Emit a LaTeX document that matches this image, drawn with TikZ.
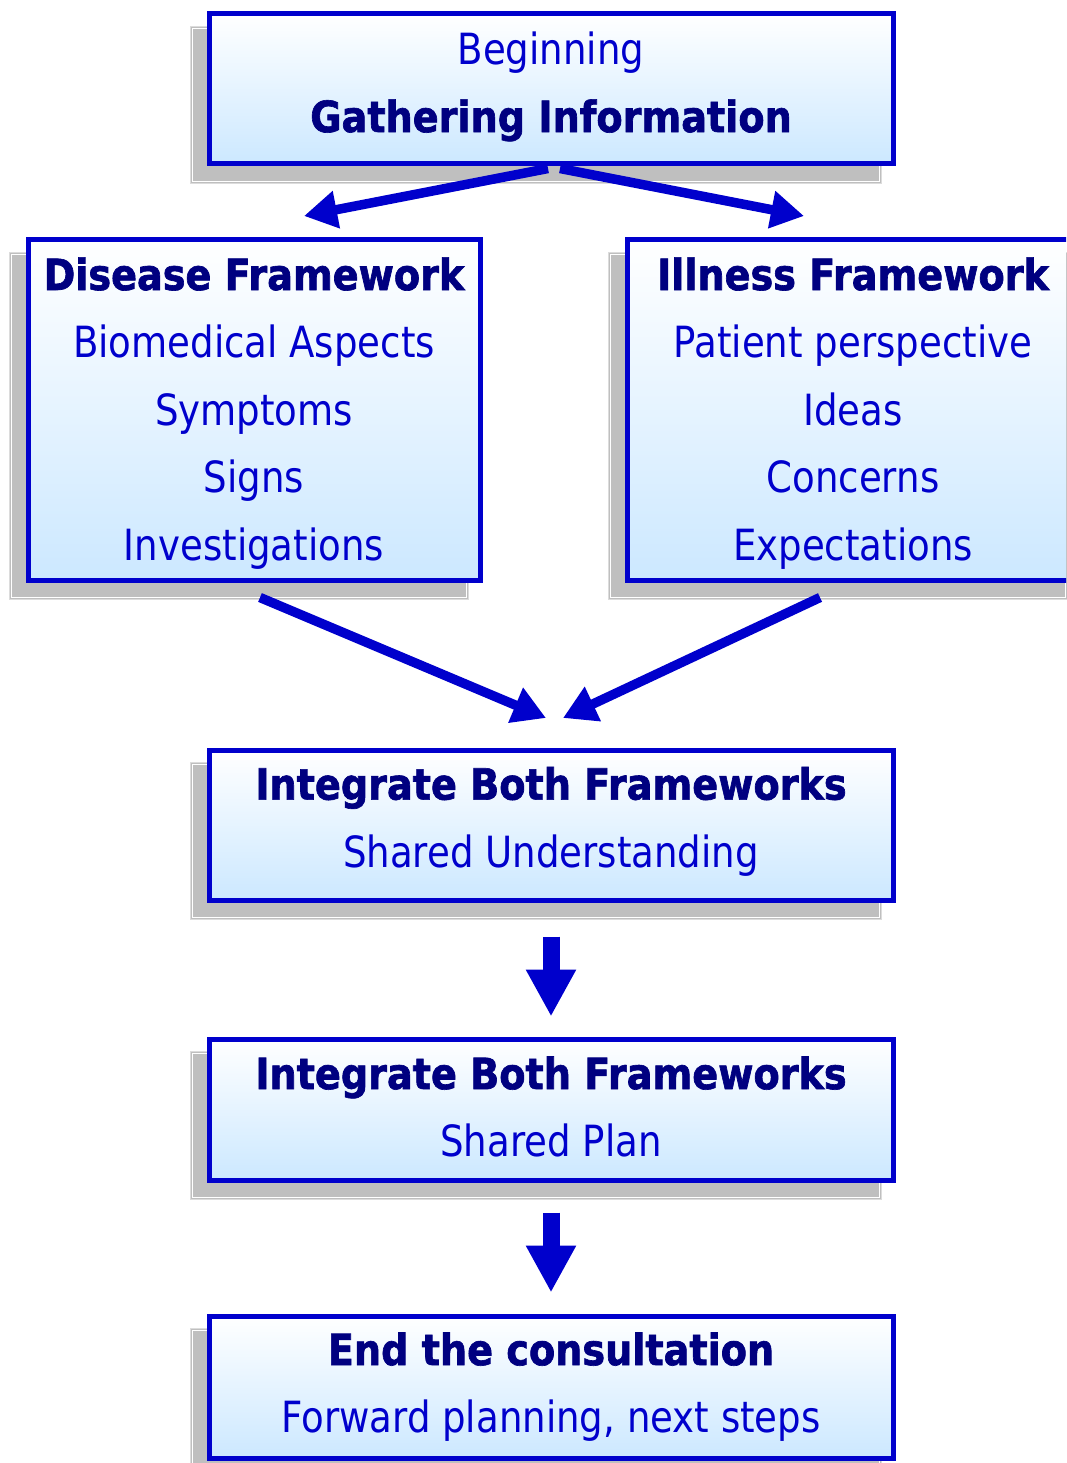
\documentclass[tikz,border=0pt]{standalone}
\usepackage{fontspec}
\setmainfont{DejaVu Sans}[FakeStretch=0.863, BoldFeatures={FakeStretch=0.888, FakeBold=1.5}]
\usetikzlibrary{arrows.meta,backgrounds}
\definecolor{bord}{RGB}{0,0,204}
\definecolor{navyhd}{RGB}{0,0,128}
\definecolor{lblue}{RGB}{204,232,255}
\definecolor{shad}{RGB}{191,191,191}
\newcommand\boxhead[1]{{\bfseries\color{navyhd}#1}}
\newcommand\toppad{\rule{0pt}{39pt}}
\newcommand\botpad[1]{\rule[-#1pt]{0pt}{0pt}}
\begin{document}
\begin{tikzpicture}[x=1pt,y=-1pt,
  box/.style={draw=bord, line width=5pt, top color=white, bottom color=lblue,
    align=center, text=bord, inner sep=0pt,
    font=\fontsize{43}{67.5}\selectfont},
  shadowfill/.style={fill=shad, draw=shad!55!white, line width=1pt},
  shadowline/.style={draw=white, line width=1.2pt},
  diagarrow/.style={draw=bord, line width=9.5pt, -{Triangle[width=36pt,length=33pt]}},
  downarrow/.style={draw=bord, line width=17pt, -{Triangle[width=47pt,length=47pt]}}
]
\path[use as bounding box, clip] (0,0) rectangle (1066,1463);

\node[box, minimum width=684pt, minimum height=150pt] (top) at (551,89)
  {Beginning\\ \boxhead{Gathering Information}\botpad{14}};
\node[box, minimum width=452pt, minimum height=340pt] (dis) at (254,410)
  {\toppad\boxhead{Disease Framework}\\ Biomedical Aspects\\ Symptoms\\ Signs\\ Investigations};
\node[box, minimum width=452pt, minimum height=340pt] (ill) at (853,410)
  {\toppad\boxhead{Illness Framework}\\ Patient perspective\\ Ideas\\ Concerns\\ Expectations};
\node[box, minimum width=684pt, minimum height=150pt] (int1) at (551,825)
  {\boxhead{Integrate Both Frameworks}\\ Shared Understanding\botpad{16}};
\node[box, minimum width=684pt, minimum height=141pt] (int2) at (551,1109.5)
  {\boxhead{Integrate Both Frameworks}\\ Shared Plan\botpad{6}};
\node[box, minimum width=684pt, minimum height=142pt] (fin) at (551,1387)
  {\boxhead{End the consultation}\\ Forward planning, next steps};

\begin{scope}[on background layer]
  \foreach \n in {top,dis,ill,int1,int2,fin}{
    \path[shadowfill] ([shift={(-16,15)}]\n.north west) rectangle ([shift={(-14,17)}]\n.south east);
    \path[shadowline] ([shift={(-14,17)}]\n.north west) rectangle ([shift={(-16,15)}]\n.south east);
  }
\end{scope}

\coordinate (tipTL) at (304,216);
\coordinate (tipTR) at (804,216);
\coordinate (tipBL) at (546,718);
\coordinate (tipBR) at (563,718);

\draw[diagarrow] ([shift={(-3,2)}]top.south) -- (tipTL);
\draw[diagarrow] ([shift={(9,2)}]top.south) -- (tipTR);
\draw[diagarrow] ([shift={(6,15)}]dis.south) -- (tipBL);
\draw[diagarrow] ([shift={(-33,15)}]ill.south) -- (tipBR);

\draw[downarrow] ([shift={(0,34)}]int1.south) -- ([shift={(0,-20)}]int2.north);
\draw[downarrow] ([shift={(0,30)}]int2.south) -- ([shift={(0,-21)}]fin.north);
\end{tikzpicture}
\end{document}
